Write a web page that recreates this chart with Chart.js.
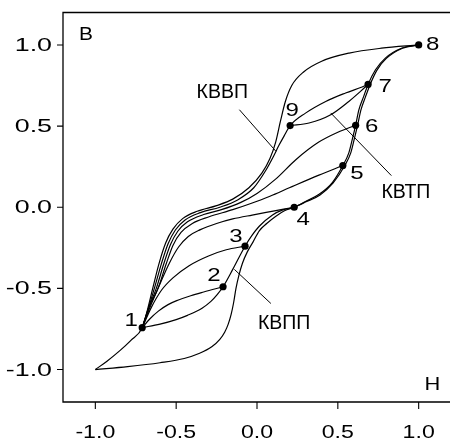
<!DOCTYPE html>
<html>
<head>
<meta charset="utf-8">
<script src="https://cdn.jsdelivr.net/npm/chart.js@4.4.1/dist/chart.umd.min.js"></script>
<style>
  html, body { margin: 0; padding: 0; background: #fff; overflow: hidden; }
</style>
</head>
<body>
<canvas id="bh" width="455" height="443"></canvas>
<script>
// B(H) curves, each as [H, B] pairs sorted by H

// major loop, descending branch (from 8 down to -1)
const majorDown = [[-1,-1],[-0.93,-0.95],[-0.85,-0.885],[-0.78,-0.82],[-0.71,-0.742],[-0.685,-0.66],
  [-0.645,-0.5],[-0.607,-0.35],[-0.565,-0.22],[-0.52,-0.135],[-0.46,-0.07],[-0.37,-0.025],[-0.25,0.01],
  [-0.15,0.05],[-0.05,0.12],[0.03,0.21],[0.08,0.3],[0.115,0.4],[0.145,0.53],[0.175,0.65],[0.215,0.75],
  [0.29,0.835],[0.4,0.9],[0.57,0.95],[0.77,0.98],[1,1]];

// major loop, ascending branch
const majorUp = [[-1,-1],[-0.8,-0.982],[-0.6,-0.958],[-0.45,-0.932],[-0.355,-0.9],[-0.28,-0.86],
  [-0.23,-0.814],[-0.2,-0.77],[-0.178,-0.72],[-0.16,-0.66],[-0.145,-0.59],[-0.13,-0.5],[-0.112,-0.42],
  [-0.09,-0.345],[-0.06,-0.275],[-0.025,-0.215],[0.014,-0.145],[0.06,-0.1],[0.117,-0.055],[0.17,-0.022],
  [0.23,0],[0.3,0.032],[0.39,0.076],[0.47,0.148],[0.543,0.257],[0.58,0.335],[0.601,0.417],[0.622,0.505],
  [0.643,0.6],[0.672,0.683],[0.7,0.757],[0.742,0.845],[0.8,0.917],[0.9,0.98],[1,1]];

// first order reversal curve from point 1 (through 2..8)
const firstOrder = [[-0.71,-0.742],[-0.6,-0.72],[-0.5,-0.692],[-0.43,-0.666],[-0.34,-0.622],[-0.285,-0.58],
  [-0.245,-0.537],[-0.21,-0.49],[-0.15,-0.383],[-0.074,-0.24],[-0.03,-0.172],[0.014,-0.117],[0.096,-0.047],
  [0.16,-0.016],[0.23,0],[0.3,0.036],[0.384,0.08],[0.466,0.152],[0.531,0.257],[0.568,0.335],[0.589,0.417],
  [0.61,0.505],[0.63,0.6],[0.66,0.683],[0.687,0.757],[0.733,0.847],[0.794,0.919],[0.897,0.981],[1,1]];

// second order curves returning to point 1
const from2 = [[-0.71,-0.742],[-0.665,-0.69],[-0.61,-0.64],[-0.55,-0.6],[-0.49,-0.573],[-0.41,-0.545],
  [-0.33,-0.522],[-0.21,-0.49]];
const from3 = [[-0.71,-0.742],[-0.655,-0.62],[-0.59,-0.51],[-0.52,-0.435],[-0.42,-0.36],[-0.3,-0.3],
  [-0.19,-0.262],[-0.074,-0.24]];
const from4 = [[-0.71,-0.742],[-0.655,-0.6],[-0.595,-0.46],[-0.54,-0.34],[-0.485,-0.245],[-0.425,-0.18],
  [-0.35,-0.138],[-0.25,-0.1],[-0.15,-0.072],[-0.03,-0.048],[0.1,-0.024],[0.23,0]];
const from5 = [[-0.71,-0.742],[-0.665,-0.61],[-0.612,-0.5],[-0.562,-0.35],[-0.52,-0.235],[-0.47,-0.155],
  [-0.4,-0.1],[-0.3,-0.06],[-0.15,-0.015],[-0.047,0.02],[0.08,0.068],[0.2,0.12],[0.383,0.198],[0.531,0.257]];
const from6 = [[-0.71,-0.742],[-0.67,-0.62],[-0.623,-0.5],[-0.577,-0.35],[-0.535,-0.23],[-0.49,-0.148],
  [-0.43,-0.09],[-0.33,-0.045],[-0.22,-0.015],[-0.1,0.03],[0,0.085],[0.117,0.175],[0.24,0.293],
  [0.38,0.4],[0.5,0.462],[0.61,0.505]];
const from7 = [[-0.71,-0.742],[-0.677,-0.64],[-0.635,-0.5],[-0.592,-0.35],[-0.55,-0.225],[-0.505,-0.14],
  [-0.445,-0.078],[-0.35,-0.033],[-0.23,0],[-0.12,0.045],[-0.02,0.12],[0.05,0.22],[0.1,0.31],
  [0.135,0.38],[0.168,0.44],[0.205,0.503],[0.3,0.58],[0.425,0.652],[0.548,0.704],[0.65,0.741],[0.687,0.757]];

// third order curve from point 9 back to 7
const from9 = [[0.205,0.503],[0.322,0.519],[0.456,0.57],[0.568,0.652],[0.64,0.714],[0.687,0.757]];

// numbered reversal points
const pointNames = ['1','2','3','4','5','6','7','8','9'];
const pointH = [-0.71,-0.21,-0.074,0.23,0.531,0.61,0.687,1.0,0.205];
const pointB = [-0.742,-0.49,-0.24,0,0.257,0.505,0.757,1.0,0.503];

const xTicks = [-1.0,-0.5,0.0,0.5,1.0];
const yTicks = [-1.0,-0.5,0.0,0.5,1.0];

const curves = [majorDown, majorUp, firstOrder, from2, from3, from4, from5, from6, from7, from9];

// callouts: text centre and leader line in data units
const callouts = [
  {text: 'КВВП', at: [-0.215, 0.704], from: [-0.109, 0.601], to: [0.117, 0.345]},
  {text: 'КВТП', at: [0.921, 0.089], from: [0.831, 0.195], to: [0.456, 0.581]},
  {text: 'КВПП', at: [0.168, -0.716], from: [0.086, -0.593], to: [-0.14, -0.383]}
];
const nameOffsets = [[-11,-7],[-9,-11],[-9,-9],[9,13],[14,8],[16,2],[17,3],[14,0],[2,-15]];

const FONT = 'Arial, "Liberation Sans", Helvetica, sans-serif';

// text drawn a little wider than the font
function wideText(ctx, str, px, py, size, sx, align) {
  ctx.save();
  ctx.translate(px, py);
  ctx.scale(sx, 1);
  ctx.font = size + 'px ' + FONT;
  ctx.textAlign = align;
  ctx.textBaseline = 'middle';
  ctx.fillText(str, 0, 0);
  ctx.restore();
}

const frameAndText = {
  id: 'frameAndText',
  afterDraw(chart) {
    const ctx = chart.ctx, a = chart.chartArea;
    const x = chart.scales.x, y = chart.scales.y;
    ctx.save();
    ctx.strokeStyle = '#000';
    ctx.fillStyle = '#000';

    // frame
    ctx.lineWidth = 1.3;
    ctx.beginPath();
    ctx.moveTo(a.right, a.top);
    ctx.lineTo(a.left, a.top);
    ctx.lineTo(a.left, a.bottom);
    ctx.lineTo(a.right, a.bottom);
    ctx.stroke();

    // tick marks
    ctx.lineWidth = 1.1;
    ctx.beginPath();
    yTicks.forEach(v => {
      const py = y.getPixelForValue(v);
      ctx.moveTo(a.left - 6, py); ctx.lineTo(a.left, py);
    });
    xTicks.forEach(v => {
      const px = x.getPixelForValue(v);
      ctx.moveTo(px, a.bottom); ctx.lineTo(px, a.bottom + 7);
    });
    ctx.stroke();

    // tick labels
    yTicks.forEach(v => wideText(ctx, v.toFixed(1), a.left - 11, y.getPixelForValue(v) + 1, 18.5, 1.45, 'right'));
    xTicks.forEach(v => wideText(ctx, v.toFixed(1), x.getPixelForValue(v), a.bottom + 31, 18.5, 1.25, 'center'));

    // axis letters
    wideText(ctx, 'B', a.left + 23, a.top + 22, 19, 1.1, 'center');
    wideText(ctx, 'H', a.right - 18.6, a.bottom - 17, 19, 1.15, 'center');

    // point numbers
    pointNames.forEach((n, i) => {
      const px = x.getPixelForValue(pointH[i]) + nameOffsets[i][0];
      const py = y.getPixelForValue(pointB[i]) + nameOffsets[i][1];
      wideText(ctx, n, px, py, 18.5, 1.3, 'center');
    });

    // callouts
    callouts.forEach(c => {
      ctx.lineWidth = 1;
      ctx.beginPath();
      ctx.moveTo(x.getPixelForValue(c.from[0]), y.getPixelForValue(c.from[1]));
      ctx.lineTo(x.getPixelForValue(c.to[0]), y.getPixelForValue(c.to[1]));
      ctx.stroke();
      wideText(ctx, c.text, x.getPixelForValue(c.at[0]), y.getPixelForValue(c.at[1]), 19.5, 1.0, 'center');
    });
    ctx.restore();
  }
};

const datasets = curves.map(c => ({
  data: c.map(p => ({x: p[0], y: p[1]})),
  showLine: true,
  pointRadius: 0,
  borderColor: '#000',
  borderWidth: 1.2,
  cubicInterpolationMode: 'monotone',
  fill: false
}));
datasets.push({
  data: pointH.map((h, i) => ({x: h, y: pointB[i]})),
  showLine: false,
  pointRadius: 3.6,
  pointBackgroundColor: '#000',
  pointBorderWidth: 0
});

new Chart(document.getElementById('bh'), {
  type: 'scatter',
  data: {datasets: datasets},
  options: {
    responsive: false,
    animation: false,
    events: [],
    layout: {padding: {left: 63, top: 12.5, right: 2.4, bottom: 41}},
    plugins: {legend: {display: false}, tooltip: {enabled: false}},
    scales: {
      x: {type: 'linear', min: -1.2, max: 1.2, display: false},
      y: {type: 'linear', min: -1.2, max: 1.2, display: false}
    }
  },
  plugins: [frameAndText]
});
</script>
</body>
</html>
